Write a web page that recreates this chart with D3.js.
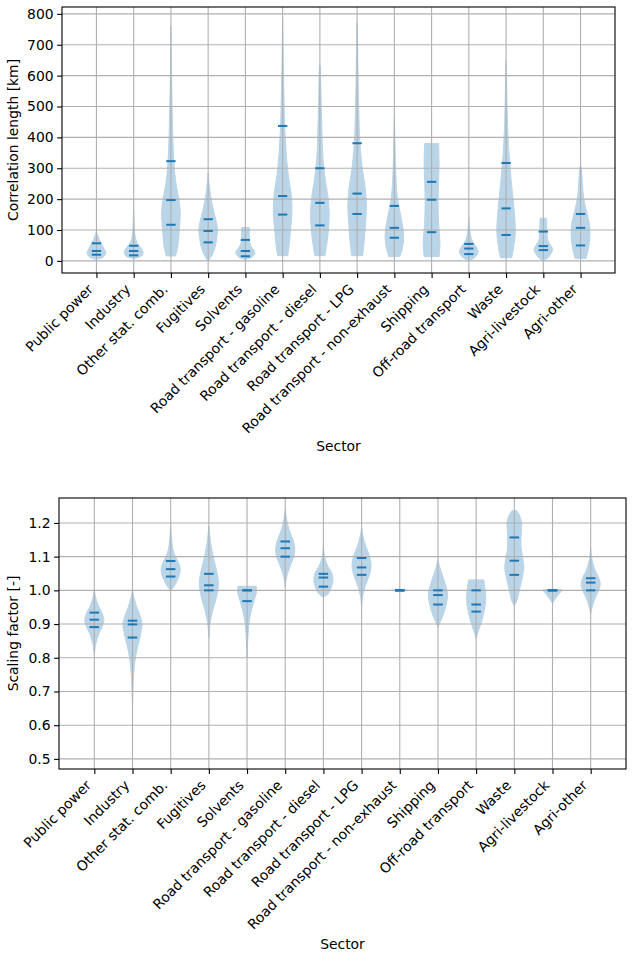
<!DOCTYPE html>
<html>
<head>
<meta charset="utf-8">
<script src="https://cdn.jsdelivr.net/npm/d3@7"></script>
<style>
  body { margin: 0; background: #fff; }
  text { font-family: "DejaVu Sans", sans-serif; fill: #000; }
</style>
</head>
<body>
<div id="chart"></div>
<script>
const sectors = ['Public power', 'Industry', 'Other stat. comb.', 'Fugitives', 'Solvents',
    'Road transport - gasoline', 'Road transport - diesel', 'Road transport - LPG',
    'Road transport - non-exhaust', 'Shipping', 'Off-road transport', 'Waste',
    'Agri-livestock', 'Agri-other'];

const corrTicks = [0, 100, 200, 300, 400, 500, 600, 700, 800];
const scaleTicks = [0.5, 0.6, 0.7, 0.8, 0.9, 1.0, 1.1, 1.2];

// violin profiles: [value, relative density]
const corrProfiles = [
    [[5,0],[10,0.6],[20,0.95],[28,1],[40,0.8],[55,0.55],[70,0.3],[85,0.12],[95,0]],
    [[8,0],[12,0.6],[20,0.95],[30,1],[45,0.7],[60,0.35],[80,0.15],[110,0.07],[140,0.03],[165,0]],
    [[16,0.5],[40,0.7],[80,0.85],[130,0.97],[160,1],[200,0.85],[240,0.6],[280,0.42],[330,0.3],[400,0.2],[470,0.14],[550,0.09],[630,0.05],[700,0.02],[760,0]],
    [[0,0],[15,0.35],[40,0.7],[70,0.9],[100,1],[130,0.85],[160,0.6],[190,0.38],[220,0.22],[250,0.1],[285,0]],
    [[5,0],[10,0.6],[20,0.95],[30,1],[45,0.65],[60,0.45],[80,0.4],[100,0.42],[108,0.42]],
    [[17,0.55],[50,0.7],[100,0.85],[160,1],[220,0.9],[280,0.6],[340,0.4],[400,0.28],[460,0.2],[530,0.14],[600,0.09],[680,0.05],[740,0.025],[785,0]],
    [[17,0.55],[50,0.72],[100,0.92],[150,1],[200,0.9],[250,0.65],[300,0.42],[350,0.3],[420,0.22],[500,0.15],[570,0.1],[632,0.05]],
    [[17,0.6],[60,0.75],[120,0.9],[180,1],[240,0.85],[300,0.55],[360,0.35],[420,0.24],[500,0.17],[580,0.11],[660,0.07],[720,0.04],[770,0.02]],
    [[14,0.6],[40,0.85],[80,1],[120,0.85],[160,0.6],[200,0.35],[250,0.2],[300,0.13],[350,0.08],[400,0.05],[450,0.02],[470,0]],
    [[14,0.8],[60,0.9],[120,0.75],[200,0.7],[260,0.75],[320,0.8],[380,0.75]],
    [[0,0],[8,0.5],[20,0.9],[32,1],[45,0.8],[60,0.45],[80,0.2],[100,0.1],[120,0.05],[140,0]],
    [[10,0.6],[50,0.85],[100,1],[150,0.9],[200,0.75],[260,0.55],[320,0.38],[380,0.25],[450,0.15],[520,0.09],[590,0.05],[650,0]],
    [[0,0],[10,0.5],[25,0.85],[38,1],[50,0.8],[65,0.5],[85,0.4],[110,0.38],[138,0.35]],
    [[8,0.6],[40,0.85],[80,1],[120,0.95],[160,0.65],[200,0.35],[250,0.2],[290,0.12],[305,0.08]]
];
const corrQuantiles = [
    [20, 32, 57], [18, 32, 49], [117, 197, 323], [60, 97, 135], [15, 32, 68],
    [150, 210, 437], [115, 188, 300], [152, 218, 381], [75, 107, 178], [93, 198, 256],
    [22, 40, 55], [84, 170, 317], [35, 48, 95], [50, 107, 152]
];

const scaleProfiles = [
    [[0.81,0],[0.84,0.15],[0.87,0.45],[0.89,0.8],[0.91,1],[0.93,0.85],[0.95,0.5],[0.97,0.22],[0.99,0.07],[1.0,0]],
    [[0.655,0],[0.7,0.04],[0.75,0.12],[0.8,0.3],[0.84,0.6],[0.87,0.85],[0.9,1],[0.92,0.85],[0.95,0.45],[0.98,0.15],[1.0,0]],
    [[1.0,0],[1.01,0.3],[1.03,0.7],[1.05,0.95],[1.065,1],[1.08,0.85],[1.1,0.5],[1.12,0.25],[1.15,0.1],[1.19,0]],
    [[0.86,0],[0.9,0.12],[0.94,0.4],[0.98,0.8],[1.02,1],[1.06,0.8],[1.1,0.45],[1.14,0.2],[1.17,0.07],[1.19,0]],
    [[0.8,0],[0.85,0.07],[0.9,0.2],[0.94,0.45],[0.97,0.75],[0.99,0.95],[1.0,1],[1.012,0.95]],
    [[1.01,0],[1.04,0.15],[1.07,0.5],[1.1,0.9],[1.125,1],[1.15,0.8],[1.18,0.4],[1.21,0.15],[1.24,0]],
    [[0.98,0],[0.99,0.5],[1.01,0.85],[1.03,1],[1.05,0.9],[1.07,0.5],[1.09,0.2],[1.11,0.07],[1.135,0]],
    [[0.95,0],[0.98,0.1],[1.01,0.35],[1.04,0.75],[1.07,1],[1.1,0.85],[1.13,0.45],[1.16,0.15],[1.185,0]],
    [[0.996,0],[0.999,0.6],[1.0,1],[1.001,0.6],[1.004,0]],
    [[0.89,0],[0.91,0.3],[0.94,0.7],[0.97,0.95],[0.99,1],[1.02,0.75],[1.05,0.4],[1.07,0.18],[1.09,0]],
    [[0.858,0],[0.88,0.25],[0.91,0.6],[0.94,0.85],[0.97,1],[1.0,0.95],[1.02,0.85],[1.031,0.8]],
    [[0.955,0],[0.97,0.28],[1.0,0.52],[1.04,0.85],[1.07,1],[1.1,0.85],[1.13,0.7],[1.17,0.72],[1.2,0.77],[1.224,0.52],[1.236,0.25]],
    [[0.962,0],[0.975,0.3],[0.99,0.7],[1.0,1],[1.002,1]],
    [[0.93,0],[0.95,0.15],[0.98,0.5],[1.0,0.85],[1.02,1],[1.04,0.8],[1.06,0.45],[1.09,0.15],[1.125,0]]
];
const scaleQuantiles = [
    [0.891, 0.913, 0.934], [0.86, 0.899, 0.91], [1.041, 1.063, 1.087], [1.0, 1.015, 1.049],
    [0.968, 1.0, 1.0], [1.10, 1.125, 1.145], [1.011, 1.038, 1.049], [1.046, 1.068, 1.096],
    [1.0, 1.0, 1.0], [0.958, 0.986, 1.0], [0.937, 0.958, 1.0], [1.046, 1.088, 1.157],
    [1.0, 1.0, 1.0], [1.0, 1.023, 1.036]
];

const C0 = '#1f77b4';
const fontSize = 13.9;

const svg = d3.select('#chart')
    .append('svg')
    .attr('width', 633)
    .attr('height', 958);

function drawPanel(opts) {
    const {left, right, top, bottom, yDomain, ticks, fmt, profiles, quantiles, yLabel, sectorY} = opts;

    const x = d3.scaleLinear().domain([0.075, 14.925]).range([left, right]);
    const y = d3.scaleLinear().domain(yDomain).range([bottom, top]);
    const positions = sectors.map((s, i) => i + 1);

    const g = svg.append('g');

    // violin bodies (fill + edge share one opacity so the edge doesn't darken)
    profiles.forEach((prof, i) => {
        const pos = positions[i];
        const area = d3.area()
            .curve(d3.curveCatmullRom)
            .y(d => y(d[0]))
            .x0(d => x(pos - d[1] * 0.25))
            .x1(d => x(pos + d[1] * 0.25));
        g.append('path')
            .attr('d', area(prof))
            .attr('fill', C0)
            .attr('stroke', C0)
            .attr('stroke-width', 1)
            .attr('opacity', 0.3);
    });

    // grid
    g.selectAll('.ygrid')
        .data(ticks)
        .enter()
        .append('line')
        .attr('x1', left).attr('x2', right)
        .attr('y1', d => y(d)).attr('y2', d => y(d))
        .attr('stroke', '#b0b0b0')
        .attr('stroke-width', 1.1);
    g.selectAll('.xgrid')
        .data(positions)
        .enter()
        .append('line')
        .attr('x1', d => x(d)).attr('x2', d => x(d))
        .attr('y1', top).attr('y2', bottom)
        .attr('stroke', '#b0b0b0')
        .attr('stroke-width', 1.1);

    // quantile lines
    quantiles.forEach((qs, i) => {
        const pos = positions[i];
        qs.forEach(q => {
            g.append('line')
                .attr('x1', x(pos - 0.125))
                .attr('x2', x(pos + 0.125))
                .attr('y1', y(q)).attr('y2', y(q))
                .attr('stroke', C0)
                .attr('stroke-width', 2);
        });
    });

    // frame
    g.append('rect')
        .attr('x', left).attr('y', top)
        .attr('width', right - left).attr('height', bottom - top)
        .attr('fill', 'none')
        .attr('stroke', '#000')
        .attr('stroke-width', 1.1);

    // y axis
    const yAxis = d3.axisLeft(y)
        .tickValues(ticks)
        .tickFormat(fmt)
        .tickSize(4.9)
        .tickSizeOuter(0)
        .tickPadding(3.5);
    const ya = g.append('g')
        .attr('transform', `translate(${left},0)`)
        .call(yAxis);
    ya.select('.domain').remove();
    ya.selectAll('line').attr('stroke', '#000').attr('stroke-width', 1.1);
    ya.selectAll('text')
        .style('font-family', '"DejaVu Sans", sans-serif')
        .style('font-size', fontSize + 'px')
        .attr('fill', '#000');

    // x axis
    const xAxis = d3.axisBottom(x)
        .tickValues(positions)
        .tickFormat('')
        .tickSize(4.9)
        .tickSizeOuter(0);
    const xa = g.append('g')
        .attr('transform', `translate(0,${bottom})`)
        .call(xAxis);
    xa.select('.domain').remove();
    xa.selectAll('line').attr('stroke', '#000').attr('stroke-width', 1.1);

    g.selectAll('.xlabel')
        .data(sectors)
        .enter()
        .append('text')
        .attr('transform', (d, i) => `translate(${x(positions[i]) - 2.3},${bottom + 17.2}) rotate(-45)`)
        .attr('text-anchor', 'end')
        .style('font-size', fontSize + 'px')
        .text(d => d);

    g.append('text')
        .attr('x', (left + right) / 2)
        .attr('y', sectorY)
        .attr('text-anchor', 'middle')
        .attr('dominant-baseline', 'middle')
        .style('font-size', fontSize + 'px')
        .text('Sector');

    g.append('text')
        .attr('transform', `translate(14,${(top + bottom) / 2}) rotate(-90)`)
        .attr('text-anchor', 'middle')
        .attr('dominant-baseline', 'middle')
        .style('font-size', fontSize + 'px')
        .text(yLabel);
}

drawPanel({
    left: 62, right: 615, top: 7, bottom: 273,
    yDomain: [-39.2, 822.2],
    ticks: corrTicks,
    fmt: d3.format('d'),
    profiles: corrProfiles,
    quantiles: corrQuantiles,
    yLabel: 'Correlation length [km]',
    sectorY: 447
});

drawPanel({
    left: 59, right: 626, top: 498, bottom: 769,
    yDomain: [0.470, 1.274],
    ticks: scaleTicks,
    fmt: d3.format('.1f'),
    profiles: scaleProfiles,
    quantiles: scaleQuantiles,
    yLabel: 'Scaling factor [-]',
    sectorY: 945
});
</script>
</body>
</html>
